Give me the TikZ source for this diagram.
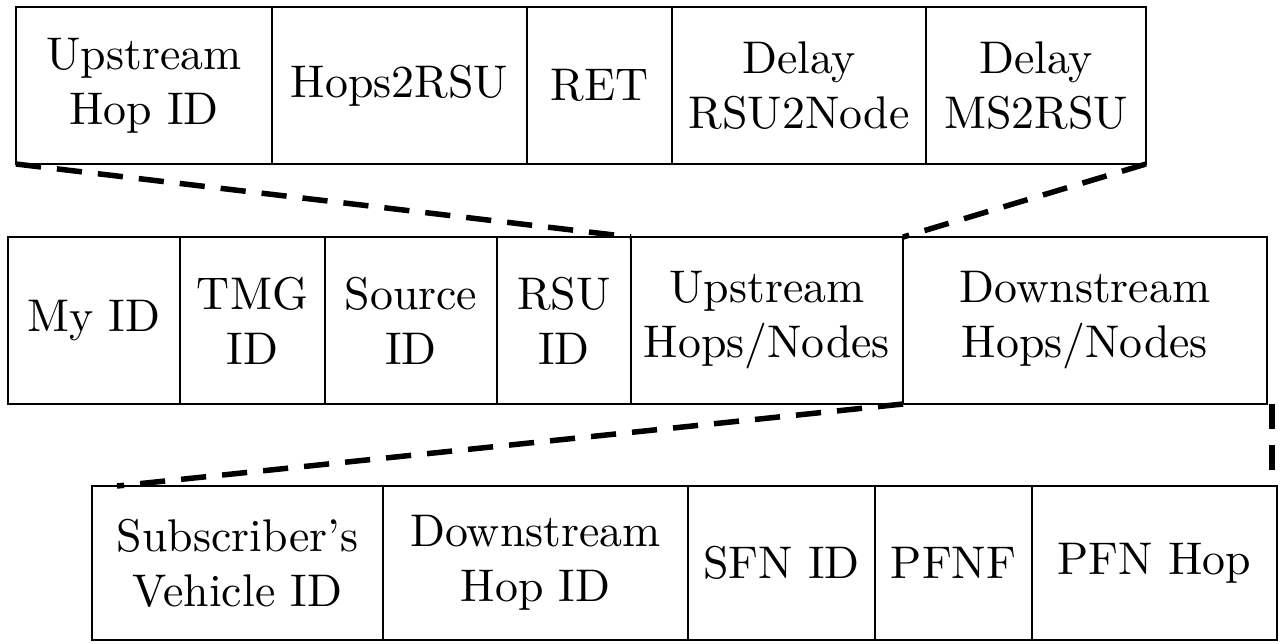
\documentclass[tikz,border=0pt]{standalone}
\usetikzlibrary{positioning}

\newlength{\px}
\setlength{\px}{0.00768cm}

\begin{document}
\begin{tikzpicture}
		[
		x=0.00768cm, y=-0.00768cm, node distance=0pt,
		%Felder und gestrichelte Verbindungen
		field/.style={draw, semithick, inner sep=0pt, outer sep=0pt, align=center},
		link/.style={very thick, dash pattern=on 5.5pt off 3.5pt}
		]
		
		\useasboundingbox (0,0) rectangle (1280,643);
		
		%Obere Zeile
		\node[field, anchor=north west, minimum width=256\px, minimum height=157\px] (uphop) at (16,7) {Upstream\\Hop ID};
		\node[field, right=of uphop, minimum width=255\px, minimum height=157\px] (hops) {Hops2RSU};
		\node[field, right=of hops, minimum width=145\px, minimum height=157\px] (ret) {RET};
		\node[field, right=of ret, minimum width=254\px, minimum height=157\px] (drsu) {Delay\\RSU2Node};
		\node[field, right=of drsu, minimum width=220\px, minimum height=157\px] (dms) {Delay\\MS2RSU};
		
		%Mittlere Zeile
		\node[field, anchor=north west, minimum width=172\px, minimum height=167\px] (myid) at (8,237) {My ID};
		\node[field, right=of myid, minimum width=145\px, minimum height=167\px] (tmg) {TMG\\ID};
		\node[field, right=of tmg, minimum width=172\px, minimum height=167\px] (src) {Source\\ID};
		\node[field, right=of src, minimum width=134\px, minimum height=167\px] (rsu) {RSU\\ID};
		\node[field, right=of rsu, minimum width=272\px, minimum height=167\px] (uphops) {Upstream\\Hops/Nodes};
		\node[field, right=of uphops, minimum width=364\px, minimum height=167\px] (dnhops) {Downstream\\Hops/Nodes};
		
		%Untere Zeile
		\node[field, anchor=north west, minimum width=291\px, minimum height=154\px] (sub) at (92,486) {Subscriber's\\Vehicle ID};
		\node[field, right=of sub, minimum width=305\px, minimum height=154\px] (dnhop) {Downstream\\Hop ID};
		\node[field, right=of dnhop, minimum width=187\px, minimum height=154\px] (sfn) {SFN ID};
		\node[field, right=of sfn, minimum width=157\px, minimum height=154\px] (pfnf) {PFNF};
		\node[field, right=of pfnf, minimum width=245\px, minimum height=154\px] (pfnhop) {PFN Hop};
		
		%Gestrichelte Linien
		\draw[link] (uphop.south west) -- (uphops.north west);
		\draw[link] (dms.south east) -- (uphops.north east);
		
		\coordinate (subend) at ([xshift=25\px]sub.north west);
		\draw[link] (uphops.south east) -- (subend);
		
		\coordinate (dnend) at ([xshift=5\px]dnhops.south east);
		\draw[link] (dnend) -- (dnend |- pfnhop.north);
		
	\end{tikzpicture}
\end{document}
